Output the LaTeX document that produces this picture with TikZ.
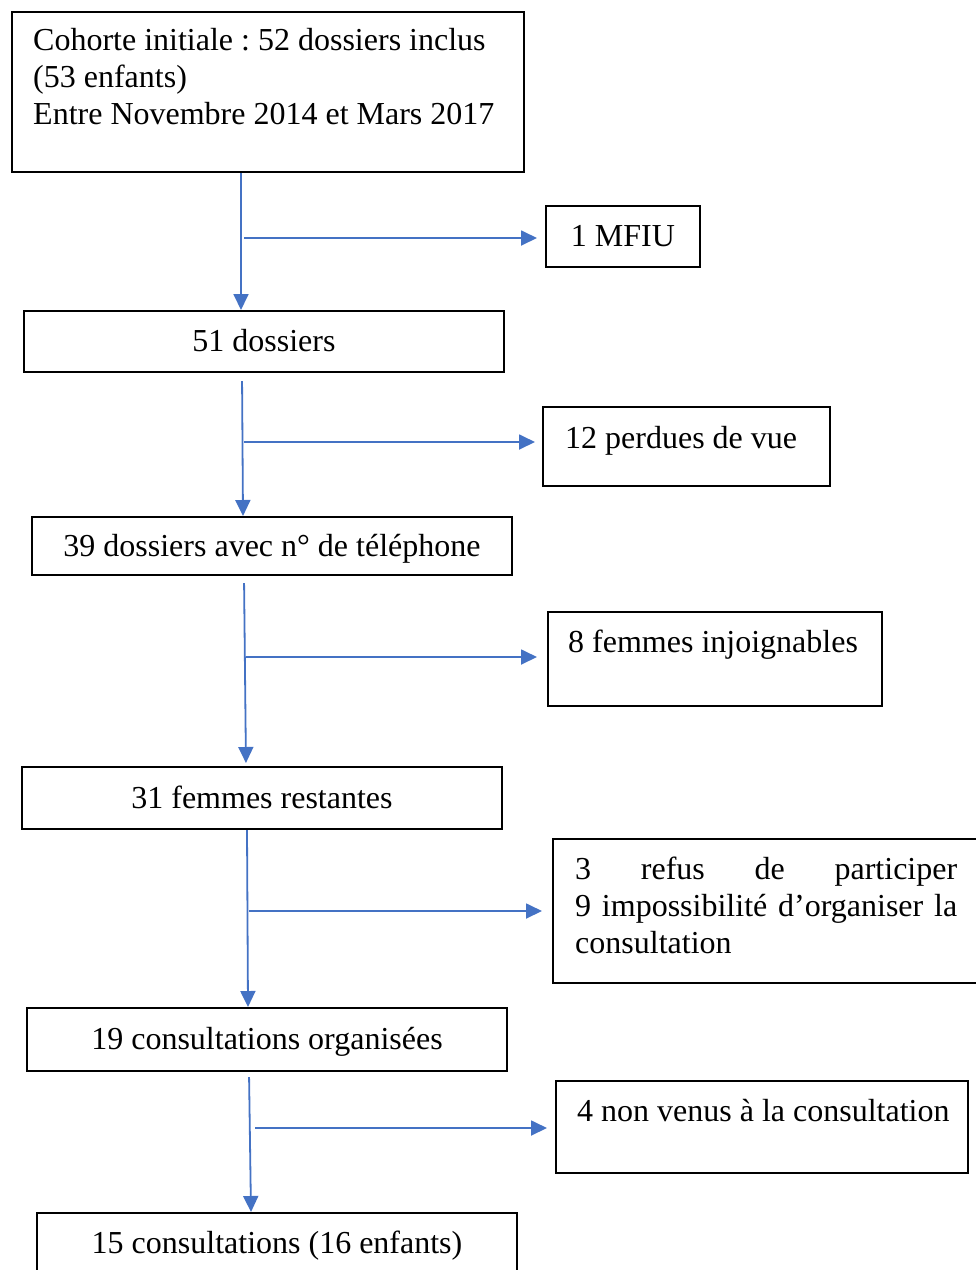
\documentclass[tikz,border=0pt]{standalone}
\usepackage{fontspec}
\setmainfont{Liberation Serif}
\usetikzlibrary{arrows.meta}
\definecolor{arrblue}{RGB}{68,114,196}
\frenchspacing
\begin{document}
\begin{tikzpicture}[x=1pt,y=-1pt,
  font=\fontsize{32}{37}\selectfont\frenchspacing,
  box/.style={draw=black, line width=2pt, inner sep=0pt, align=center, text height=24pt, text depth=4pt},
  txt/.style={inner sep=0pt, anchor=north west, align=left},
  arr/.style={draw=arrblue, line width=1.8pt, -{Triangle[length=16pt,width=15pt]}}]
\useasboundingbox (0,0) rectangle (976,1270);
\clip (0,0) rectangle (976,1270);
% main column
\node[box, minimum width=512, minimum height=160] (A) at (268,92) {};
\node[txt] (tA) at (33,28) {Cohorte initiale : 52 dossiers inclus\\(53 enfants)\\Entre Novembre 2014 et Mars 2017};
\node[box, minimum width=480, minimum height=61] (B) at (264,341.5) {51 dossiers};
\node[box, minimum width=480, minimum height=58] (C) at (272,546) {39 dossiers avec n° de téléphone};
\node[box, minimum width=480, minimum height=62] (D) at (262,798) {31 femmes restantes};
\node[box, minimum width=480, minimum height=63] (E) at (267,1039.5) {19 consultations organisées};
\node[box, minimum width=480, minimum height=61] (F) at (277,1243.5) {15 consultations (16 enfants)};
% side boxes
\node[box, minimum width=154, minimum height=61] (M) at (623,236.5) {1 MFIU};
\node[box, minimum width=287, minimum height=79] (P) at (686.5,446.5) {};
\node[txt] (tP) at (565,426) {12 perdues de vue};
\node[box, minimum width=334, minimum height=94] (W) at (715,659) {};
\node[txt] (tW) at (568,630) {8 femmes injoignables};
\node[box, minimum width=437, minimum height=144] (R) at (771.5,911) {};
\node[txt] (tR) at (575,857) {\makebox[382pt][s]{3 \hfill refus \hfill de \hfill participer}\\\makebox[382pt][s]{9 impossibilité d’organiser la}\\consultation};
\node[box, minimum width=412, minimum height=92] (N) at (762,1127) {};
\node[txt] (tN) at (577,1099) {4 non venus à la consultation};
% vertical connectors
\draw[arr] (A.south -| 241,0) -- (B.north -| 241,0);
\draw[arr, shorten <=8pt] (B.south -| 242,0) -- (C.north -| 243,0);
\draw[arr, shorten <=7pt, shorten >=3pt] (C.south -| 244,0) -- (D.north -| 246,0);
\draw[arr] (D.south -| 247,0) -- (E.north -| 248,0);
\draw[arr, shorten <=5pt] (E.south -| 249,0) -- (F.north -| 251,0);
% branch points
\coordinate (j1) at (244,238);
\coordinate (j2) at (244,442);
\coordinate (j3) at (246,657);
\coordinate (j4) at (249,911);
\coordinate (j5) at (255,1128);
\draw[arr, shorten >=8pt] (j1) -- (j1 -| M.west);
\draw[arr, shorten >=7pt] (j2) -- (j2 -| P.west);
\draw[arr, shorten >=10pt] (j3) -- (j3 -| W.west);
\draw[arr, shorten >=10pt] (j4) -- (j4 -| R.west);
\draw[arr, shorten >=8pt] (j5) -- (j5 -| N.west);
\end{tikzpicture}
\end{document}
